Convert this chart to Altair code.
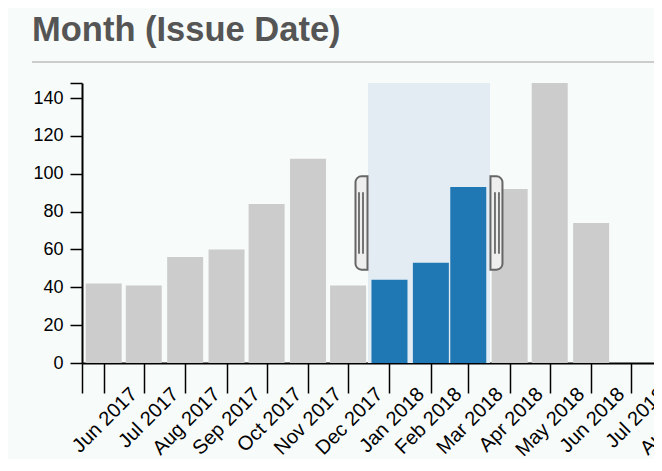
import altair as alt
import pandas as pd

# ---- data ----
months = ["2017-06-01", "2017-07-01", "2017-08-01", "2017-09-01", "2017-10-01",
          "2017-11-01", "2017-12-01", "2018-01-01", "2018-02-01", "2018-03-01",
          "2018-04-01", "2018-05-01", "2018-06-01"]
counts = [42, 41, 56, 60, 84, 108, 41, 44, 53, 93, 92, 148, 74]

y_max = 148
y_ticks = [0, 20, 40, 60, 80, 100, 120, 140, 148]

x_start = "2017-05-15T18:00:00Z"
x_end = "2018-09-10T00:00:00Z"
brush_start = "2017-12-15T22:00:00Z"
brush_end = "2018-03-17T06:00:00Z"

tick_dates = [x_start, "2017-06-01", "2017-07-01", "2017-08-01", "2017-09-01",
              "2017-10-01", "2017-11-01", "2017-12-01", "2018-01-01", "2018-02-01",
              "2018-03-01", "2018-04-01", "2018-05-01", "2018-06-01", "2018-07-01",
              "2018-08-01", "2018-09-01"]
tick_labels = ["", "", "Jun 2017", "Jul 2017", "Aug 2017", "Sep 2017", "Oct 2017",
               "Nov 2017", "Dec 2017", "Jan 2018", "Feb 2018", "Mar 2018", "Apr 2018",
               "May 2018", "Jun 2018", "Jul 2018", "Aug 2018"]

title_text = "Month (Issue Date)"
FONT = "Liberation Sans"


def ts(s):
    t = pd.Timestamp(s)
    if t.tzinfo is None:
        t = t.tz_localize("UTC")
    return int(t.value // 10**6)


tick_ms = [ts(d) for d in tick_dates]
label_expr = ("[" + ",".join("'" + l + "'" for l in tick_labels) + "][indexof(["
              + ",".join(str(v) for v in tick_ms) + "], +datum.value)]")

bs, be = ts(brush_start), ts(brush_end)
bars_df = pd.DataFrame({
    "month": months,
    "count": counts,
    "state": ["selected" if bs <= ts(m) <= be else "other" for m in months],
})
brush_df = pd.DataFrame({"start": [brush_start], "end": [brush_end],
                         "top": [y_max], "bottom": [0]})
hw_df = pd.DataFrame({"edge": [brush_start], "top": [y_max * 2 / 3], "bottom": [y_max / 3]})
he_df = pd.DataFrame({"edge": [brush_end], "top": [y_max * 2 / 3], "bottom": [y_max / 3]})

W, H = 644, 280

xscale = alt.Scale(type="utc", domain=[ts(x_start), ts(x_end)], nice=False, padding=0)
yscale = alt.Scale(domain=[0, y_max], nice=False, zero=True)

xaxis = alt.Axis(values=tick_ms, labelExpr=label_expr, labelAngle=315,
                 labelAlign="right", labelBaseline="alphabetic", labelPadding=2,
                 labelOffset=-6,
                 tickSize=30, tickWidth=1.5, tickColor="black", domainColor="black",
                 domainWidth=2, labelFontSize=20, labelColor="black", labelFont=FONT,
                 labelOverlap=False, labelFlush=False, labelBound=False, grid=False,
                 title=None)
yaxis = alt.Axis(values=y_ticks, labelExpr="datum.value > 140 ? '' : datum.label",
                 tickSize=12, tickWidth=1.5, tickColor="black", domainColor="black",
                 domainWidth=2, labelFontSize=18, labelColor="black", labelFont=FONT,
                 labelPadding=7, labelOverlap=False, labelFlush=False, grid=False,
                 title=None)


def X(field):
    return alt.X(field, type="temporal", scale=xscale, axis=xaxis, title=None)


def Y(field):
    return alt.Y(field, type="quantitative", scale=yscale, axis=yaxis, title=None)


brush = alt.Chart(brush_df).mark_rect(color="#e3ebf3").encode(
    x=X("start"), x2=alt.X2("end"), y=Y("top"), y2=alt.Y2("bottom"))

bars = alt.Chart(bars_df).mark_bar(size=36).encode(
    x=X("month"), y=Y("count"),
    color=alt.Color("state:N", scale=alt.Scale(domain=["selected", "other"],
                                               range=["#1f77b4", "#cccccc"]), legend=None))

underline = alt.Chart(bars_df).mark_rule(color="#cccccc", strokeWidth=2).encode(
    x=alt.value(-50), x2=alt.value(W), y=alt.value(-21))

handle_w = alt.Chart(hw_df).mark_rect(
    fill="#eeeeee", stroke="#666666", strokeWidth=2, xOffset=-12.5, x2Offset=-0.5,
    cornerRadiusTopLeft=9, cornerRadiusBottomLeft=9).encode(
    x=X("edge"), x2=alt.X2("edge"), y=Y("top"), y2=alt.Y2("bottom"))
handle_e = alt.Chart(he_df).mark_rect(
    fill="#eeeeee", stroke="#666666", strokeWidth=2, xOffset=0.5, x2Offset=12.5,
    cornerRadiusTopRight=9, cornerRadiusBottomRight=9).encode(
    x=X("edge"), x2=alt.X2("edge"), y=Y("top"), y2=alt.Y2("bottom"))


def grip(df, off):
    return alt.Chart(df).mark_rule(color="#666666", strokeWidth=1.8, xOffset=off,
                                   yOffset=16, y2Offset=-16).encode(
        x=X("edge"), y=Y("top"), y2=alt.Y2("bottom"))


chart = alt.layer(
    brush, bars, underline, handle_w, handle_e,
    grip(hw_df, -9), grip(hw_df, -5), grip(he_df, 5), grip(he_df, 9),
).properties(
    width=W, height=H,
    title=alt.TitleParams(title_text, anchor="start", frame="group", fontSize=34.5,
                          fontWeight="bold", color="#555555", font=FONT, dx=-50,
                          dy=32, baseline="alphabetic", offset=18),
    autosize=alt.AutoSizeParams(type="none"),
    padding={"left": 74, "top": 75, "right": -72, "bottom": 96},
    background="#f7fbfa",
).configure_view(stroke=None)

chart.save("out.html", embed_options={"renderer": "svg", "actions": False})
